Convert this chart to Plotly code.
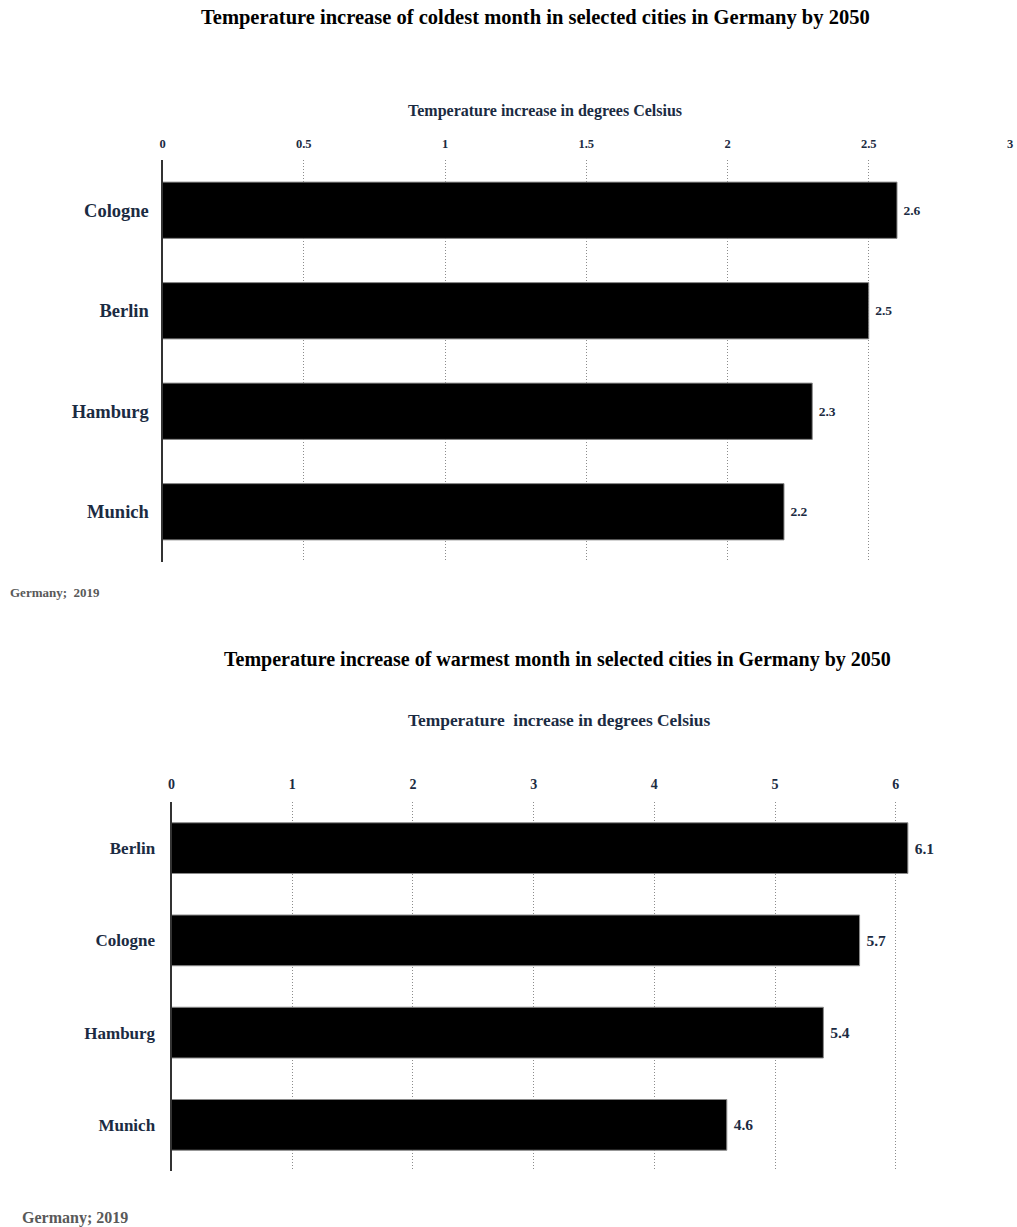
import plotly.graph_objects as go

# Coldest month: temperature increase by 2050 (°C)
cold_cities = ["Cologne", "Berlin", "Hamburg", "Munich"]
cold_values = [2.6, 2.5, 2.3, 2.2]
cold_ticks = [0, 0.5, 1, 1.5, 2, 2.5, 3]
cold_ticktext = ["0", "0.5", "1", "1.5", "2", "2.5", "3"]

# Warmest month: temperature increase by 2050 (°C)
warm_cities = ["Berlin", "Cologne", "Hamburg", "Munich"]
warm_values = [6.1, 5.7, 5.4, 4.6]
warm_ticks = [0, 1, 2, 3, 4, 5, 6, 7]

W, H = 1017, 1227
FONT = "Liberation Serif, Times New Roman, serif"
NAVY = "#1b2b42"
GRID = "#8c8c8c"


def px_x(x):
    return min(x / W, 1.0)


def px_y(y):
    return 1 - y / H


fig = go.Figure()

fig.add_trace(go.Bar(
    x=cold_values, y=cold_cities, orientation="h",
    xaxis="x", yaxis="y",
    width=0.56,
    marker=dict(color="#000000", line=dict(color="#8a8a8a", width=1)),
    text=[f" {v:g}" for v in cold_values], textposition="outside",
    textfont=dict(family=FONT, size=13.5, color=NAVY, weight="bold"),
    cliponaxis=False, hoverinfo="skip",
))

fig.add_trace(go.Bar(
    x=warm_values, y=warm_cities, orientation="h",
    xaxis="x2", yaxis="y2",
    width=0.55,
    marker=dict(color="#000000", line=dict(color="#8a8a8a", width=1)),
    text=[f" {v:g}" for v in warm_values], textposition="outside",
    textfont=dict(family=FONT, size=15.5, color=NAVY, weight="bold"),
    cliponaxis=False, hoverinfo="skip",
))

xaxis_common = dict(
    side="top", showgrid=True, gridcolor=GRID, griddash="1px,2px", gridwidth=1,
    zeroline=False, showline=False, ticks="outside", ticklen=6,
    tickcolor="rgba(0,0,0,0)", fixedrange=True, automargin=False,
)
yaxis_common = dict(
    showgrid=False, zeroline=False, showline=True, linecolor="#333333",
    linewidth=2, ticks="outside", tickcolor="rgba(0,0,0,0)",
    fixedrange=True, automargin=False,
)

fig.update_layout(
    width=W, height=H,
    margin=dict(l=0, r=0, t=0, b=0, pad=0, autoexpand=False),
    paper_bgcolor="white", plot_bgcolor="white",
    showlegend=False,
    font=dict(family=FONT, color=NAVY),
    xaxis=dict(
        **xaxis_common,
        domain=[px_x(162.5), px_x(1010)], anchor="y",
        range=[0, 3], tickmode="array", tickvals=cold_ticks,
        ticktext=cold_ticktext,
        tickfont=dict(family=FONT, size=12.5, color=NAVY, weight="bold"),
    ),
    yaxis=dict(
        **yaxis_common,
        domain=[px_y(562), px_y(160)], anchor="x", ticklen=8,
        range=[3.5, -0.5], categoryorder="array", categoryarray=cold_cities,
        tickfont=dict(family=FONT, size=18.5, color=NAVY, weight="bold"),
    ),
    xaxis2=dict(
        **xaxis_common,
        domain=[px_x(171.5), 1.0], anchor="y2",
        range=[0, 7.004], tickmode="array", tickvals=warm_ticks,
        tickfont=dict(family=FONT, size=14, color=NAVY, weight="bold"),
    ),
    yaxis2=dict(
        **yaxis_common,
        domain=[px_y(1171), px_y(802)], anchor="x2", ticklen=11,
        range=[3.5, -0.5], categoryorder="array", categoryarray=warm_cities,
        tickfont=dict(family=FONT, size=17, color=NAVY, weight="bold"),
    ),
)

annotations = [
    dict(text="Temperature increase of coldest month in selected cities in Germany by 2050",
         x=px_x(535), y=px_y(18), xanchor="center", yanchor="middle",
         font=dict(family=FONT, size=20.5, color="#000000", weight="bold")),
    dict(text="Temperature increase in degrees Celsius",
         x=px_x(545), y=px_y(111), xanchor="center", yanchor="middle",
         font=dict(family=FONT, size=16, color=NAVY, weight="bold")),
    dict(text="Germany;  2019",
         x=px_x(8), y=px_y(592), xanchor="left", yanchor="middle",
         font=dict(family=FONT, size=13, color="#595959", weight="bold")),
    dict(text="Temperature increase of warmest month in selected cities in Germany by 2050",
         x=px_x(557), y=px_y(659), xanchor="center", yanchor="middle",
         font=dict(family=FONT, size=20, color="#000000", weight="bold")),
    dict(text="Temperature  increase in degrees Celsius",
         x=px_x(559), y=px_y(720), xanchor="center", yanchor="middle",
         font=dict(family=FONT, size=17.4, color=NAVY, weight="bold")),
    dict(text="Germany; 2019",
         x=px_x(20), y=px_y(1218), xanchor="left", yanchor="middle",
         font=dict(family=FONT, size=16, color="#595959", weight="bold")),
]
for a in annotations:
    a.update(xref="paper", yref="paper", showarrow=False)
fig.update_layout(annotations=annotations)

fig.write_html("out.html", config={"displayModeBar": False})
